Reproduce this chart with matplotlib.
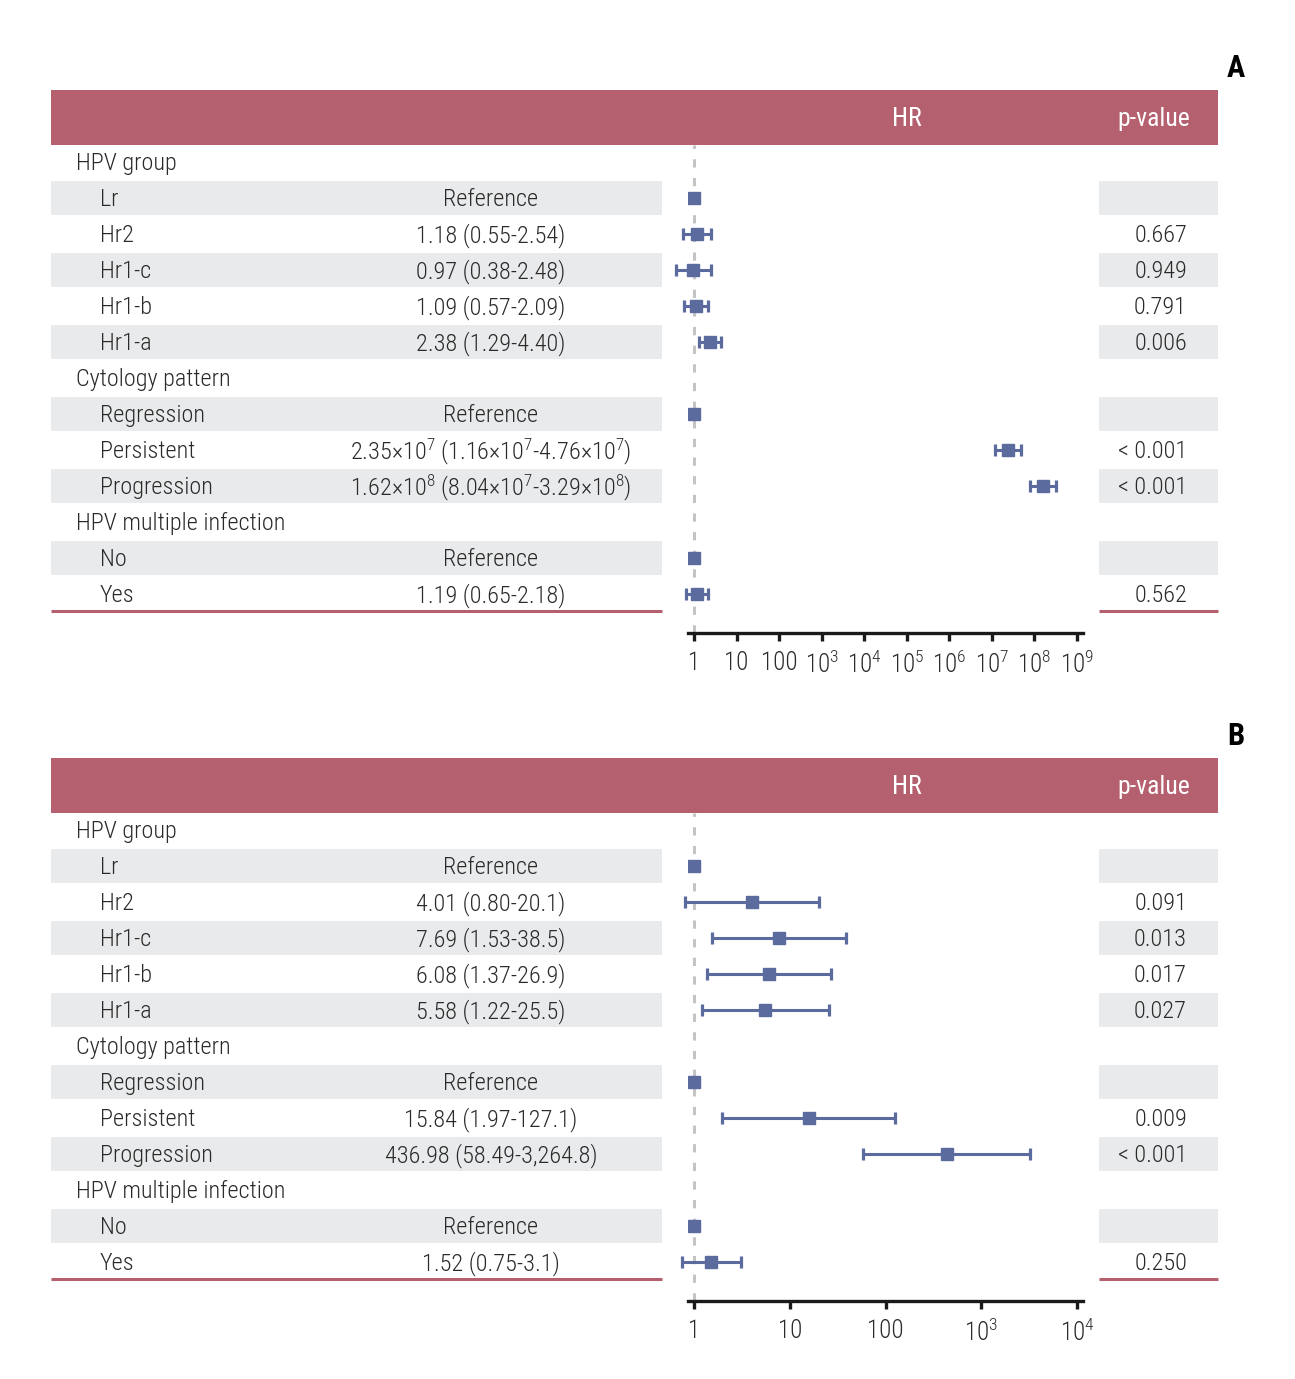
import matplotlib
matplotlib.use('Agg')
import matplotlib.pyplot as plt
import numpy as np

plt.rcParams['font.family'] = ['Roboto Condensed', 'Liberation Sans Narrow', 'DejaVu Sans']
plt.rcParams['font.weight'] = 'light'
plt.rcParams['mathtext.fontset'] = 'custom'
plt.rcParams['mathtext.rm'] = 'Roboto Condensed:light'
plt.rcParams['mathtext.it'] = 'Roboto Condensed:light'

# row labels (same for both panels); True = group header
row_labels = ['HPV group', 'Lr', 'Hr2', 'Hr1-c', 'Hr1-b', 'Hr1-a',
              'Cytology pattern', 'Regression', 'Persistent', 'Progression',
              'HPV multiple infection', 'No', 'Yes']
is_group = [True, False, False, False, False, False,
            True, False, False, False, True, False, False]

# panel A
hr_text_a = ['', 'Reference', '1.18 (0.55-2.54)', '0.97 (0.38-2.48)', '1.09 (0.57-2.09)',
             '2.38 (1.29-4.40)', '', 'Reference',
             r'2.35×10$^7$ (1.16×10$^7$-4.76×10$^7$)',
             r'1.62×10$^8$ (8.04×10$^7$-3.29×10$^8$)', '', 'Reference', '1.19 (0.65-2.18)']
est_a = [np.nan, 1, 1.18, 0.97, 1.09, 2.38, np.nan, 1, 2.35e7, 1.62e8, np.nan, 1, 1.19]
lo_a = [np.nan, np.nan, 0.55, 0.38, 0.57, 1.29, np.nan, np.nan, 1.16e7, 8.04e7, np.nan, np.nan, 0.65]
hi_a = [np.nan, np.nan, 2.54, 2.48, 2.09, 4.40, np.nan, np.nan, 4.76e7, 3.29e8, np.nan, np.nan, 2.18]
p_a = ['', '', '0.667', '0.949', '0.791', '0.006', '', '', '< 0.001', '< 0.001', '', '', '0.562']
ticks_a = [1e0, 1e1, 1e2, 1e3, 1e4, 1e5, 1e6, 1e7, 1e8, 1e9]
ticklabels_a = ['1', '10', '100', r'10$^3$', r'10$^4$', r'10$^5$', r'10$^6$',
                r'10$^7$', r'10$^8$', r'10$^9$']

# panel B
hr_text_b = ['', 'Reference', '4.01 (0.80-20.1)', '7.69 (1.53-38.5)', '6.08 (1.37-26.9)',
             '5.58 (1.22-25.5)', '', 'Reference', '15.84 (1.97-127.1)',
             '436.98 (58.49-3,264.8)', '', 'Reference', '1.52 (0.75-3.1)']
est_b = [np.nan, 1, 4.01, 7.69, 6.08, 5.58, np.nan, 1, 15.84, 436.98, np.nan, 1, 1.52]
lo_b = [np.nan, np.nan, 0.80, 1.53, 1.37, 1.22, np.nan, np.nan, 1.97, 58.49, np.nan, np.nan, 0.75]
hi_b = [np.nan, np.nan, 20.1, 38.5, 26.9, 25.5, np.nan, np.nan, 127.1, 3264.8, np.nan, np.nan, 3.1]
p_b = ['', '', '0.091', '0.013', '0.017', '0.027', '', '', '0.009', '< 0.001', '', '', '0.250']
ticks_b = [1e0, 1e1, 1e2, 1e3, 1e4]
ticklabels_b = ['1', '10', '100', r'10$^3$', r'10$^4$']

W, H = 1295, 1379
ROSE = '#b5606e'
GRAY = '#e9eaeb'
BLUE = '#5b6b9e'
TXT = '#2a2a2a'
FS = 17.5

fig = plt.figure(figsize=(W / 100, H / 100), dpi=100)
bg = fig.add_axes([0, 0, 1, 1])
bg.set_xlim(0, W)
bg.set_ylim(H, 0)
bg.axis('off')


def px_rect(x0, y0, x1, y1):
    return [x0 / W, 1 - y1 / H, (x1 - x0) / W, (y1 - y0) / H]


def draw_panel(y0, letter, hr_text, est, lo, hi, pvals, ticks, ticklabels):
    # header band
    bg.add_patch(plt.Rectangle((51, y0), 1167, 55, color=ROSE, lw=0))
    bg.text(907, y0 + 29, 'HR', color='white', size=FS + 1, ha='center', va='center',
            weight='normal')
    bg.text(1154, y0 + 29, 'p-value', color='white', size=FS + 1, ha='center', va='center',
            weight='normal')
    bg.text(1236, y0 - 22, letter, color='black', size=22, weight='bold',
            ha='center', va='center')

    for i, lab in enumerate(row_labels):
        yc = y0 + 72 + 36 * i
        if i % 2 == 1:
            bg.add_patch(plt.Rectangle((51, yc - 17), 611, 34, color=GRAY, lw=0))
            bg.add_patch(plt.Rectangle((1099, yc - 17), 119, 34, color=GRAY, lw=0))
        ty = yc + 1.5
        bg.text(76 if is_group[i] else 100, ty, lab, size=FS, color=TXT,
                ha='left', va='center')
        bg.text(491, ty, hr_text[i], size=FS, color=TXT, ha='center', va='center')
        bg.text(1187, ty, pvals[i], size=FS, color=TXT, ha='right', va='center')

    yb = y0 + 72 + 36 * 12 + 17
    bg.plot([51, 662], [yb, yb], color=ROSE, lw=2.2, solid_capstyle='butt')
    bg.plot([1099, 1218], [yb, yb], color=ROSE, lw=2.2, solid_capstyle='butt')

    # forest plot axes
    ax = fig.add_axes(px_rect(688, y0 + 55, 1083, y0 + 543))
    ax.patch.set_alpha(0)
    ax.set_xscale('log')
    dec = np.log10(ticks[-1])
    ppd = 383 / dec
    ax.set_xlim(10 ** (-6 / ppd), 10 ** (dec + 6 / ppd))
    ax.set_ylim((543 - 72) / 36, -17 / 36)
    ax.axvline(1, color='#c4c4c4', lw=2.2, ls=(0, (2.7, 3.4)), zorder=1)

    est = np.array(est)
    lo = np.array(lo)
    hi = np.array(hi)
    rows = np.arange(len(est))
    ci = ~np.isnan(lo)
    ref = ~np.isnan(est) & ~ci
    eb = ax.errorbar(est[ci], rows[ci], xerr=[est[ci] - lo[ci], hi[ci] - est[ci]],
                     fmt='s', color=BLUE, ms=8, elinewidth=2.2, capsize=4,
                     capthick=2.3, zorder=3)
    for child in eb.get_children():
        child.set_clip_on(False)
    ax.plot(est[ref], rows[ref], 's', color=BLUE, ms=8, zorder=3)

    for s in ['top', 'left', 'right']:
        ax.spines[s].set_visible(False)
    ax.spines['bottom'].set_linewidth(2.4)
    ax.spines['bottom'].set_color('#1a1a1a')
    ax.set_xticks(ticks)
    ax.set_xticklabels(ticklabels)
    ax.xaxis.set_minor_locator(matplotlib.ticker.NullLocator())
    ax.tick_params(axis='x', length=6, width=2.4, color='#1a1a1a',
                   labelsize=FS + 0.5, labelcolor=TXT, pad=7)
    ax.set_yticks([])


draw_panel(90, 'A', hr_text_a, est_a, lo_a, hi_a, p_a, ticks_a, ticklabels_a)
draw_panel(758, 'B', hr_text_b, est_b, lo_b, hi_b, p_b, ticks_b, ticklabels_b)

fig.savefig('out.png', dpi=100)
